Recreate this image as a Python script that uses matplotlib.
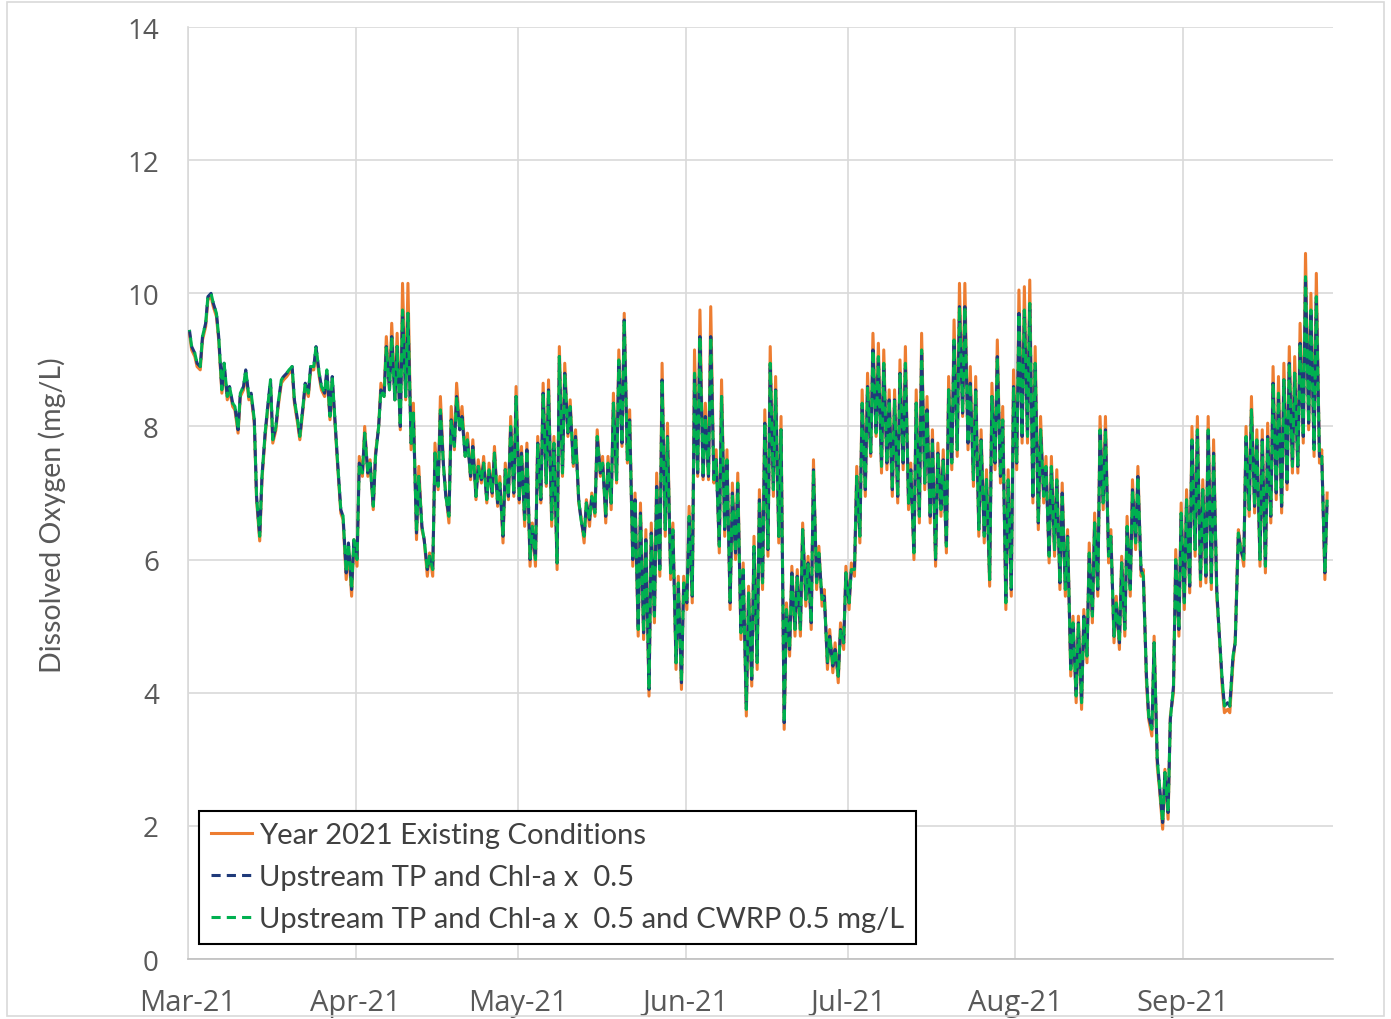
"""
Dissolved oxygen time series, Mar-Sep 2021: existing conditions vs.
upstream load reduction scenarios. Saved to out.png.
"""

import numpy as np
import pandas as pd
import matplotlib
matplotlib.use("Agg")
import matplotlib.pyplot as plt
import matplotlib.dates as mdates
from matplotlib.lines import Line2D
from matplotlib.patches import Rectangle


# ── Daily low (dawn) / high (afternoon) DO values, mg/L, from 2021-03-01 ──────
START_DATE = "2021-03-01"

existing_lo = [
    9.40, 9.05, 8.85, 9.50, 9.95, 9.65, 8.50, 8.40, 8.30, 7.90,
    8.55, 8.40, 8.05, 6.28, 7.85, 8.65, 7.95, 8.65, 8.75, 8.85,
    8.05, 8.25, 8.45, 8.85, 8.75, 8.45, 8.10, 7.95, 6.70, 5.70,
    5.45, 5.90, 7.25, 7.25, 6.75, 8.00, 8.45, 8.55, 8.40, 7.95,
    8.40, 7.65, 6.30, 6.45, 5.75, 5.75, 7.05, 7.40, 6.55, 7.65,
    7.95, 7.55, 7.20, 6.90, 7.15, 6.85, 6.95, 6.80, 6.25, 6.90,
    6.95, 6.85, 6.50, 5.90, 5.90, 6.85, 7.10, 6.50, 5.85, 7.25,
    7.85, 7.40, 6.85, 6.25, 6.50, 6.65, 7.25, 6.55, 6.75, 7.15,
    7.70, 7.45, 5.90, 4.85, 4.80, 3.95, 5.05, 5.75, 6.35, 5.70,
    4.35, 4.05, 5.25, 5.35, 7.25, 7.20, 7.20, 7.15, 6.10, 6.35,
    5.25, 6.00, 4.80, 3.65, 4.10, 4.35, 5.55, 6.05, 6.95, 6.25,
    3.45, 4.55, 4.85, 4.85, 5.30, 4.95, 5.55, 5.30, 4.35, 4.30,
    4.15, 4.65, 5.25, 5.75, 6.25, 6.95, 7.55, 7.85, 7.30, 7.35,
    6.95, 6.85, 7.35, 6.75, 6.00, 6.55, 7.05, 6.55, 5.90, 6.65,
    6.10, 7.35, 7.55, 8.15, 7.65, 7.10, 6.35, 6.25, 5.60, 7.35,
    7.15, 5.25, 5.45, 7.35, 7.75, 7.75, 6.85, 6.45, 6.85, 5.95,
    6.05, 5.55, 5.45, 4.25, 3.85, 3.75, 4.45, 5.05, 5.45, 6.75,
    5.95, 4.75, 4.65, 4.85, 5.45, 6.15, 5.75, 4.15, 3.35, 2.90,
    1.95, 2.10, 4.00, 4.85, 5.25, 5.50, 6.05, 5.60, 5.65, 5.55,
    5.45, 4.10, 3.75, 4.45, 6.45, 5.90, 6.65, 6.70, 5.90, 5.80,
    6.55, 6.90, 6.70, 7.05, 7.30, 7.30, 7.75, 7.95, 7.55, 7.45,
    5.70,
]
existing_hi = [
    9.15, 8.90, 9.30, 9.90, 9.80, 9.30, 8.90, 8.55, 8.25, 8.45,
    8.80, 8.45, 6.90, 7.20, 8.20, 7.75, 8.30, 8.70, 8.80, 8.35,
    7.80, 8.60, 8.85, 9.15, 8.55, 8.80, 8.70, 7.40, 6.60, 6.20,
    6.30, 7.55, 8.00, 7.50, 7.60, 8.65, 9.35, 9.55, 9.40, 10.15,
    10.15, 8.35, 7.40, 6.30, 6.10, 7.75, 8.45, 7.00, 8.30, 8.65,
    8.30, 7.90, 7.80, 7.50, 7.55, 7.45, 7.70, 7.25, 7.45, 8.15,
    8.60, 7.70, 7.75, 6.55, 7.85, 8.65, 8.70, 7.85, 9.20, 8.95,
    8.40, 7.95, 6.65, 6.90, 7.00, 7.95, 7.55, 7.55, 8.50, 9.15,
    9.70, 8.25, 7.00, 6.85, 6.45, 6.55, 7.30, 8.95, 8.05, 6.55,
    5.75, 5.75, 6.80, 9.15, 9.75, 8.35, 9.80, 7.65, 8.70, 7.65,
    7.15, 7.30, 5.95, 5.60, 6.35, 7.05, 8.25, 9.20, 8.75, 8.15,
    5.35, 5.90, 5.85, 6.55, 6.05, 7.50, 6.20, 5.55, 4.95, 4.75,
    5.05, 5.90, 5.95, 7.40, 8.55, 8.80, 9.40, 9.25, 9.15, 8.55,
    8.55, 9.00, 9.20, 7.45, 8.55, 9.40, 8.45, 7.95, 7.75, 7.65,
    8.75, 9.60, 10.15, 10.15, 8.90, 8.75, 7.95, 7.35, 8.65, 9.30,
    8.30, 7.35, 8.85, 10.05, 10.10, 10.20, 9.20, 8.15, 7.55, 7.55,
    7.35, 7.15, 6.45, 5.15, 5.15, 5.25, 6.25, 6.70, 8.15, 8.15,
    6.45, 5.45, 6.05, 6.65, 7.20, 7.40, 5.85, 3.60, 4.85, 2.55,
    2.85, 3.65, 6.15, 6.85, 7.05, 8.00, 8.15, 7.20, 8.15, 7.80,
    4.95, 3.70, 3.70, 4.80, 6.20, 8.00, 8.45, 7.95, 7.95, 8.05,
    8.90, 8.75, 8.95, 9.20, 9.05, 9.55, 10.60, 10.00, 10.30, 7.65,
    7.00,
]

scenario_lo = [
    9.45, 9.10, 8.90, 9.55, 10.00, 9.70, 8.55, 8.45, 8.35, 7.95,
    8.60, 8.45, 8.10, 6.35, 7.90, 8.70, 8.00, 8.70, 8.80, 8.90,
    8.10, 8.30, 8.50, 8.90, 8.80, 8.50, 8.15, 8.00, 6.75, 5.80,
    5.55, 6.00, 7.30, 7.30, 6.80, 8.00, 8.45, 8.55, 8.40, 8.00,
    8.45, 7.75, 6.40, 6.50, 5.85, 5.85, 7.10, 7.40, 6.65, 7.70,
    7.95, 7.55, 7.25, 6.95, 7.20, 6.90, 7.00, 6.85, 6.35, 6.95,
    7.00, 6.90, 6.60, 6.00, 6.00, 6.90, 7.15, 6.60, 5.95, 7.30,
    7.90, 7.45, 6.90, 6.35, 6.60, 6.70, 7.30, 6.65, 6.85, 7.20,
    7.75, 7.50, 6.00, 4.95, 4.90, 4.05, 5.15, 5.85, 6.45, 5.80,
    4.45, 4.15, 5.35, 5.45, 7.30, 7.25, 7.25, 7.20, 6.20, 6.45,
    5.35, 6.10, 4.90, 3.75, 4.20, 4.45, 5.65, 6.15, 7.05, 6.35,
    3.55, 4.65, 4.95, 4.95, 5.40, 5.05, 5.65, 5.40, 4.45, 4.40,
    4.25, 4.75, 5.35, 5.85, 6.35, 7.05, 7.60, 7.90, 7.40, 7.45,
    7.05, 6.95, 7.45, 6.85, 6.10, 6.65, 7.15, 6.65, 6.00, 6.75,
    6.20, 7.45, 7.65, 8.20, 7.75, 7.20, 6.45, 6.35, 5.70, 7.45,
    7.25, 5.35, 5.55, 7.45, 7.85, 7.85, 6.95, 6.55, 6.95, 6.05,
    6.15, 5.65, 5.55, 4.35, 3.95, 3.85, 4.55, 5.15, 5.55, 6.85,
    6.05, 4.85, 4.75, 4.95, 5.55, 6.25, 5.85, 4.25, 3.45, 3.00,
    2.05, 2.20, 4.10, 4.95, 5.35, 5.60, 6.15, 5.70, 5.75, 5.65,
    5.55, 4.20, 3.85, 4.55, 6.40, 6.00, 6.75, 6.80, 6.00, 5.90,
    6.65, 7.00, 6.80, 7.15, 7.40, 7.40, 7.85, 8.05, 7.65, 7.55,
    5.80,
]
scenario_hi = [
    9.20, 8.95, 9.35, 9.95, 9.85, 9.35, 8.95, 8.60, 8.30, 8.50,
    8.85, 8.50, 6.95, 7.25, 8.25, 7.80, 8.35, 8.75, 8.85, 8.40,
    7.85, 8.65, 8.90, 9.20, 8.60, 8.85, 8.75, 7.45, 6.65, 6.25,
    6.30, 7.45, 7.90, 7.45, 7.55, 8.55, 9.20, 9.35, 9.20, 9.75,
    9.70, 8.20, 7.25, 6.30, 6.05, 7.60, 8.25, 6.95, 8.10, 8.45,
    8.15, 7.80, 7.70, 7.40, 7.45, 7.35, 7.60, 7.15, 7.35, 8.00,
    8.45, 7.60, 7.65, 6.50, 7.75, 8.50, 8.55, 7.75, 9.05, 8.80,
    8.30, 7.85, 6.60, 6.85, 6.95, 7.85, 7.45, 7.45, 8.35, 9.00,
    9.60, 8.10, 6.90, 6.70, 6.30, 6.40, 7.10, 8.70, 7.85, 6.45,
    5.65, 5.65, 6.65, 8.80, 9.35, 8.15, 9.35, 7.50, 8.45, 7.50,
    7.00, 7.15, 5.85, 5.50, 6.20, 6.90, 8.05, 8.95, 8.55, 7.95,
    5.25, 5.80, 5.75, 6.45, 5.95, 7.35, 6.10, 5.45, 4.85, 4.65,
    4.95, 5.80, 5.85, 7.25, 8.35, 8.60, 9.15, 9.05, 8.95, 8.40,
    8.40, 8.80, 8.95, 7.35, 8.35, 9.15, 8.25, 7.80, 7.60, 7.50,
    8.55, 9.30, 9.80, 9.80, 8.65, 8.55, 7.80, 7.20, 8.45, 9.05,
    8.10, 7.20, 8.60, 9.70, 9.75, 9.85, 8.95, 7.95, 7.40, 7.40,
    7.20, 7.00, 6.35, 5.05, 5.05, 5.15, 6.10, 6.55, 7.95, 7.95,
    6.35, 5.35, 5.95, 6.50, 7.05, 7.25, 5.75, 3.65, 4.75, 2.60,
    2.80, 3.60, 6.00, 6.70, 6.90, 7.80, 7.95, 7.05, 7.95, 7.60,
    4.95, 3.80, 3.80, 4.75, 6.15, 7.85, 8.25, 7.80, 7.80, 7.85,
    8.65, 8.50, 8.70, 8.95, 8.80, 9.25, 10.25, 9.75, 9.95, 7.55,
    6.90,
]

# ── Legend labels / axis ──────────────────────────────────────────────────────
SERIES_LABELS = [
    "Year 2021 Existing Conditions",
    "Upstream TP and Chl-a x  0.5",
    "Upstream TP and Chl-a x  0.5 and CWRP 0.5 mg/L",
]
Y_LABEL = "Dissolved Oxygen (mg/L)"
Y_TICKS = [0, 2, 4, 6, 8, 10, 12, 14]
MONTH_TICKS = ["2021-03-01", "2021-04-01", "2021-05-01", "2021-06-01",
               "2021-07-01", "2021-08-01", "2021-09-01"]

COLORS = {
    "existing": "#ED7D31",
    "half":     "#1F3A7A",
    "cwrp":     "#00B050",
    "grid":     "#D9D9D9",
    "text":     "#595959",
}
LW = 2.2


def _daily_to_series(lo, hi):
    """Intercala mínimo (madrugada) e máximo (tarde) de cada dia."""
    days = np.arange(len(lo))
    hours = np.column_stack([days * 24 + 6, days * 24 + 16]).ravel()
    t = pd.Timestamp(START_DATE) + pd.to_timedelta(hours, unit="h")
    v = np.column_stack([lo, hi]).ravel()
    return t, v


def plot_do(save_path="out.png"):
    fig = plt.figure(figsize=(13.91, 10.20), dpi=100)
    ax = fig.add_axes([0.1352, 0.0588, 0.8231, 0.9137])

    fig.add_artist(Rectangle((0.005, 0.003), 0.99, 0.994, transform=fig.transFigure,
                             fill=False, edgecolor=COLORS["grid"], linewidth=1.2))

    t, v_ex = _daily_to_series(existing_lo, existing_hi)
    _, v_sc = _daily_to_series(scenario_lo, scenario_hi)

    ax.plot(t, v_ex, color=COLORS["existing"], linewidth=LW, zorder=3)
    ax.plot(t, v_sc, color=COLORS["half"], linewidth=LW,
            linestyle=(0, (3, 2)), zorder=4)
    ax.plot(t, v_sc, color=COLORS["cwrp"], linewidth=LW,
            linestyle=(2.5, (3, 2)), zorder=5)

    ax.set_ylim(0, 14)
    ax.set_yticks(Y_TICKS)
    ax.set_xlim(pd.Timestamp("2021-03-01"), pd.Timestamp("2021-09-28 18:00"))
    ax.set_xticks(pd.to_datetime(MONTH_TICKS))
    ax.xaxis.set_major_formatter(mdates.DateFormatter("%b-%y"))

    ax.grid(True, color=COLORS["grid"], linewidth=1.2)
    ax.set_axisbelow(True)
    for side in ("top", "right"):
        ax.spines[side].set_visible(False)
    ax.spines["left"].set_color(COLORS["grid"])
    ax.spines["bottom"].set_color("#BFBFBF")
    ax.spines["left"].set_linewidth(1.2)
    ax.spines["bottom"].set_linewidth(1.2)

    ax.tick_params(axis="both", length=0, labelcolor=COLORS["text"])
    ax.tick_params(axis="y", pad=21)
    ax.tick_params(axis="x", pad=21)
    for lab in ax.get_yticklabels():
        lab.set_fontfamily("Open Sans")
        lab.set_fontsize(20)
    for lab in ax.get_xticklabels():
        lab.set_fontfamily("Open Sans")
        lab.set_fontsize(21)

    ax.set_ylabel(Y_LABEL, fontsize=20.5, family="Lato", color=COLORS["text"])
    ax.yaxis.set_label_coords(-0.107, 0.477)

    # handles próprios: o tracejado deslocado da série verde fica feio na legenda
    handles = [
        Line2D([], [], color=COLORS["existing"], linewidth=LW),
        Line2D([], [], color=COLORS["half"], linewidth=LW, linestyle=(0, (3, 2))),
        Line2D([], [], color=COLORS["cwrp"], linewidth=LW, linestyle=(0, (3, 2))),
    ]
    leg = ax.legend(handles, SERIES_LABELS, loc="lower left",
                    bbox_to_anchor=(0.0096, 0.016),
                    borderaxespad=0, fancybox=False, framealpha=1,
                    edgecolor="black", prop={"family": "Lato", "size": 21},
                    handlelength=1.4, handletextpad=0.25, labelspacing=0.55,
                    borderpad=0.4)
    leg.get_frame().set_linewidth(1.5)
    for txt in leg.get_texts():
        txt.set_color("#404040")
    leg.set_zorder(10)

    fig.savefig(save_path, dpi=100)
    return fig


if __name__ == "__main__":
    plot_do("out.png")
